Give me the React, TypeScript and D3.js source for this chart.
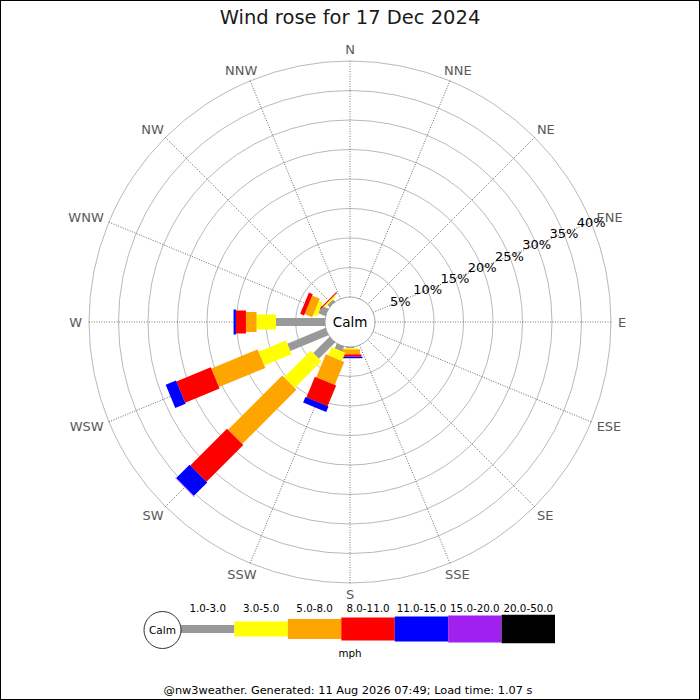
import * as d3 from "d3";
import * as React from "react";

const directions = ["N", "NNE", "NE", "ENE", "E", "ESE", "SE", "SSE", "S", "SSW", "SW", "WSW", "W", "WNW", "NW", "NNW"];
const speedClasses = ["1.0-3.0", "3.0-5.0", "5.0-8.0", "8.0-11.0", "11.0-15.0", "15.0-20.0", "20.0-50.0"];

// % of the day per direction, one array per speed class (N..NNW)
const speed1to3 = [0, 0, 0, 0, 0, 0, 0, 0, 0.2, 0.9, 3.9, 7.0, 8.3, 1.3, 0.5, 0];
const speed3to5 = [0, 0, 0, 0, 0, 0, 0, 0, 0.2, 1.5, 6.4, 5.0, 3.3, 0.7, 0.3, 0];
const speed5to8 = [0, 0, 0, 0, 0, 0, 0, 0, 0.85, 4.2, 13.0, 8.5, 1.8, 1.4, 0, 0];
const speed8to11 = [0, 0, 0, 0, 0, 0, 0, 0, 0.4, 3.8, 8.8, 6.3, 1.7, 0.7, 0.2, 0];
const speed11to15 = [0, 0, 0, 0, 0, 0, 0, 0, 0.25, 1.0, 3.2, 1.9, 0.4, 0, 0, 0];
const speed15to20 = [0, 0, 0, 0, 0, 0, 0, 0, 0, 0, 0.1, 0, 0, 0, 0, 0];
const speed20to50 = [0, 0, 0, 0, 0, 0, 0, 0, 0, 0, 0, 0, 0, 0, 0, 0];

const percentTicks = [5, 10, 15, 20, 25, 30, 35, 40];

const title = "Wind rose for 17 Dec 2024";
const footer = "@nw3weather. Generated: 11 Aug 2026 07:49; Load time: 1.07 s";

const classColors = ["#999999", "#ffff00", "#ffa500", "#ff0000", "#0000ff", "#a020f0", "#000000"];
const classWidths = [8, 15, 20, 23, 25, 27, 28.5];

export default function App() {
  const width = 700;
  const height = 700;
  const cx = 350;
  const cy = 322;
  const calmRadius = 25;
  const outerRadius = 261;
  const font = "DejaVu Sans";

  const svgRef = React.useRef<SVGSVGElement>(null);

  const series = [speed1to3, speed3to5, speed5to8, speed8to11, speed11to15, speed15to20, speed20to50];

  const r = d3.scaleLinear([0, 40], [calmRadius, outerRadius]);
  const angle = d3.scaleLinear([0, directions.length], [0, 360]);

  React.useEffect(() => {
    const svgElement = svgRef.current;
    if (svgElement == null) return;
    const svg = d3.select(svgElement);
    svg.selectAll("*").remove();

    svg
      .append("rect")
      .attr("x", 0.5)
      .attr("y", 0.5)
      .attr("width", width - 1)
      .attr("height", height - 1)
      .attr("fill", "white")
      .attr("stroke", "black");

    svg
      .append("text")
      .attr("x", cx)
      .attr("y", 24)
      .attr("text-anchor", "middle")
      .attr("font-family", font)
      .attr("font-size", 19.5)
      .attr("fill", "#1a1a1a")
      .text(title);

    const rose = svg.append("g").attr("transform", `translate(${cx},${cy})`);

    // rings
    rose
      .append("g")
      .selectAll("circle")
      .data(percentTicks)
      .join("circle")
      .attr("r", (d) => r(d))
      .attr("fill", "none")
      .attr("stroke", "#b0b0b0")
      .attr("stroke-width", 0.9);

    // spokes
    rose
      .append("g")
      .selectAll("line")
      .data(directions)
      .join("line")
      .attr("transform", (_, i) => `rotate(${angle(i)})`)
      .attr("y1", -calmRadius)
      .attr("y2", -outerRadius)
      .attr("stroke", "#555")
      .attr("stroke-width", 0.8)
      .attr("stroke-dasharray", "1,1.5");

    // direction labels
    const labelRadius = 268;
    const labelSize = 13;
    const capHeight = labelSize * 0.73;
    rose
      .append("g")
      .selectAll("text")
      .data(directions)
      .join("text")
      .attr("font-family", font)
      .attr("font-size", labelSize)
      .attr("fill", "#5a5a5a")
      .text((d) => d)
      .each(function (_, i) {
        const a = (angle(i) * Math.PI) / 180;
        const s = Math.sin(a);
        const c = Math.cos(a);
        const w = (this as SVGTextElement).getComputedTextLength();
        d3.select(this)
          .attr("x", labelRadius * s - (w * (1 - s)) / 2)
          .attr("y", -labelRadius * c + (capHeight * (1 - c)) / 2);
      });

    // stacked bars
    const bars = rose.append("g");
    directions.forEach((_, i) => {
      let cum = 0;
      series.forEach((values, k) => {
        const v = values[i];
        if (v <= 0) return;
        const r0 = r(cum);
        cum += v;
        const r1 = r(cum);
        bars
          .append("rect")
          .attr("transform", `rotate(${angle(i)})`)
          .attr("x", -classWidths[k] / 2)
          .attr("y", -r1)
          .attr("width", classWidths[k])
          .attr("height", r1 - (k === 0 ? 0 : r0))
          .attr("fill", classColors[k]);
      });
    });

    // calm circle
    rose
      .append("circle")
      .attr("r", calmRadius)
      .attr("fill", "white")
      .attr("stroke", "#a0a0a0")
      .attr("stroke-width", 0.9);
    rose
      .append("text")
      .attr("text-anchor", "middle")
      .attr("dominant-baseline", "central")
      .attr("font-family", font)
      .attr("font-size", 13.5)
      .attr("fill", "black")
      .text("Calm");

    // percent labels along ENE
    const ene = (angle(3) * Math.PI) / 180;
    rose
      .append("g")
      .selectAll("text")
      .data(percentTicks)
      .join("text")
      .attr("x", (d) => r(d) * Math.sin(ene))
      .attr("y", (d) => -r(d) * Math.cos(ene))
      .attr("text-anchor", "middle")
      .attr("dominant-baseline", "central")
      .attr("font-family", font)
      .attr("font-size", 13)
      .attr("fill", "black")
      .text((d) => `${d}%`);

    // legend
    const legendY = 629;
    const legendCalmX = 162.5;
    const legendCalmR = 18.5;
    const lx = d3.scaleLinear([0, speedClasses.length], [legendCalmX + legendCalmR, 555]);
    const legend = svg.append("g");
    legend
      .selectAll("rect")
      .data(speedClasses)
      .join("rect")
      .attr("x", (_, k) => lx(k))
      .attr("y", (_, k) => legendY - classWidths[k] / 2)
      .attr("width", (_, k) => lx(k + 1) - lx(k))
      .attr("height", (_, k) => classWidths[k])
      .attr("fill", (_, k) => classColors[k]);
    legend
      .selectAll("text.range")
      .data(speedClasses)
      .join("text")
      .attr("class", "range")
      .attr("x", (_, k) => (lx(k) + lx(k + 1)) / 2)
      .attr("y", 611.5)
      .attr("text-anchor", "middle")
      .attr("font-family", font)
      .attr("font-size", 10.3)
      .attr("fill", "black")
      .text((d) => d);
    legend
      .append("circle")
      .attr("cx", legendCalmX)
      .attr("cy", legendY + 1)
      .attr("r", legendCalmR)
      .attr("fill", "white")
      .attr("stroke", "black")
      .attr("stroke-width", 0.8);
    legend
      .append("text")
      .attr("x", legendCalmX)
      .attr("y", legendY + 1)
      .attr("text-anchor", "middle")
      .attr("dominant-baseline", "central")
      .attr("font-family", font)
      .attr("font-size", 10.5)
      .text("Calm");
    legend
      .append("text")
      .attr("x", 350)
      .attr("y", 657)
      .attr("text-anchor", "middle")
      .attr("font-family", font)
      .attr("font-size", 10.3)
      .text("mph");

    svg
      .append("text")
      .attr("x", 348)
      .attr("y", 694)
      .attr("text-anchor", "middle")
      .attr("font-family", font)
      .attr("font-size", 11.3)
      .attr("fill", "black")
      .text(footer);
  }, []);

  return (
    <svg
      ref={svgRef}
      width={width}
      height={height}
      viewBox={`0 0 ${width} ${height}`}
      style={{ position: "absolute", left: 0, top: 0 }}
    ></svg>
  );
}
